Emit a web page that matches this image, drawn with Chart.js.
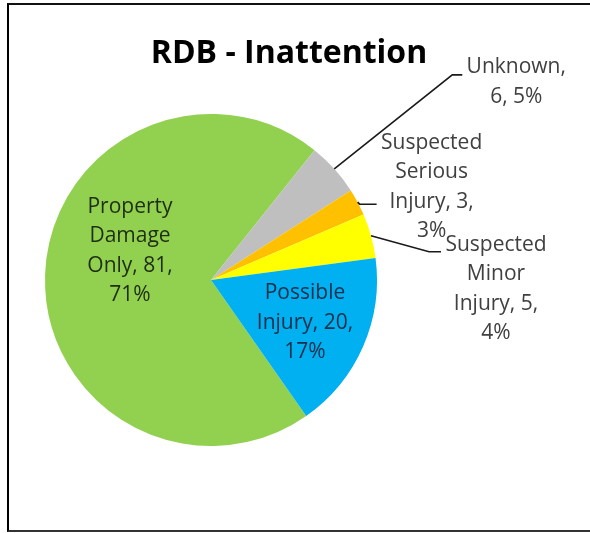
<!DOCTYPE html>
<html>
<head>
<meta charset="utf-8">
<script src="https://cdn.jsdelivr.net/npm/chart.js@4.4.1/dist/chart.umd.min.js"></script>
<style>
  html, body { margin: 0; padding: 0; background: #fff; }
  #wrap { position: relative; width: 590px; height: 533px; overflow: hidden; }
  #frame {
    position: absolute; left: 7px; top: 3px; width: 620px; height: 525px;
    border-left: 2px solid #000; border-top: 2px solid #111; border-bottom: 2px solid #333;
    pointer-events: none;
  }
</style>
</head>
<body>
<div id="wrap">
  <canvas id="pie" width="590" height="533"></canvas>
  <div id="frame"></div>
</div>
<script>
const chartTitle = "RDB - Inattention";
const categories = ["Property Damage Only", "Unknown", "Suspected Serious Injury", "Suspected Minor Injury", "Possible Injury"];
const counts = [81, 6, 3, 5, 20];
const percents = [71, 5, 3, 4, 17];
const sliceColors = ["#92D050", "#BFBFBF", "#FFC000", "#FFFF00", "#00B0F0"];

// label placement: inside labels are offset from the pie centre,
// callouts are offset from the point on the rim at the slice's mid angle
const labelLayout = [
  { inside: true, dx: -81, dy: -29, color: "#1f2d12" },
  { dx: 182, dy: -87, elbow: [118, -94], end: [128, -94], color: "#404040" },
  { dx: 74, dy: -15, elbow: [2, 2], end: [19, 2], color: "#404040" },
  { dx: 125, dy: 53, elbow: [58, 16], end: [70, 16], color: "#404040" },
  { inside: true, dx: 94, dy: 43, color: "#112f4c" },
];

const labelFont = "21px 'Open Sans'";
const lineHeight = 29.5;
const wrapWidth = 110;

function wrapText(ctx, text, maxW) {
  const words = text.split(" ");
  const lines = [];
  let cur = "";
  words.forEach(w => {
    const test = cur ? cur + " " + w : w;
    if (cur && ctx.measureText(test).width > maxW) {
      lines.push(cur);
      cur = w;
    } else {
      cur = test;
    }
  });
  if (cur) lines.push(cur);
  return lines;
}

const labelPlugin = {
  id: "excelLabels",
  afterDatasetsDraw(chart) {
    const ctx = chart.ctx;
    const meta = chart.getDatasetMeta(0);
    ctx.save();

    // title
    ctx.font = "bold 32px 'Open Sans'";
    ctx.fillStyle = "#000";
    ctx.textAlign = "center";
    ctx.textBaseline = "alphabetic";
    ctx.fillText(chartTitle, 289, 63);

    ctx.font = labelFont;
    ctx.textBaseline = "middle";
    meta.data.forEach((arc, i) => {
      const lay = labelLayout[i];
      const mid = (arc.startAngle + arc.endAngle) / 2;
      let cx, cy;
      if (lay.inside) {
        cx = arc.x + lay.dx;
        cy = arc.y + lay.dy;
      } else {
        const ex = arc.x + Math.cos(mid) * arc.outerRadius;
        const ey = arc.y + Math.sin(mid) * arc.outerRadius;
        ctx.strokeStyle = "#1a1a1a";
        ctx.lineWidth = 1.6;
        ctx.beginPath();
        ctx.moveTo(ex, ey);
        ctx.lineTo(ex + lay.elbow[0], ey + lay.elbow[1]);
        ctx.lineTo(ex + lay.end[0], ey + lay.end[1]);
        ctx.stroke();
        cx = ex + lay.dx;
        cy = ey + lay.dy;
      }
      const text = `${categories[i]}, ${counts[i]}, ${percents[i]}%`;
      const lines = wrapText(ctx, text, wrapWidth);
      const top = cy - (lines.length - 1) * lineHeight / 2;
      ctx.fillStyle = lay.color;
      lines.forEach((ln, k) => ctx.fillText(ln, cx, top + k * lineHeight));
    });
    ctx.restore();
  },
};

new Chart(document.getElementById("pie"), {
  type: "pie",
  data: {
    labels: categories,
    datasets: [{
      data: counts,
      backgroundColor: sliceColors,
      borderWidth: 0,
      hoverOffset: 0,
    }],
  },
  options: {
    responsive: false,
    animation: false,
    events: [],
    rotation: 145,
    layout: { padding: { left: 45, right: 213, top: 114, bottom: 87 } },
    plugins: {
      legend: { display: false },
      title: { display: false },
      tooltip: { enabled: false },
    },
  },
  plugins: [labelPlugin],
});
</script>
</body>
</html>
